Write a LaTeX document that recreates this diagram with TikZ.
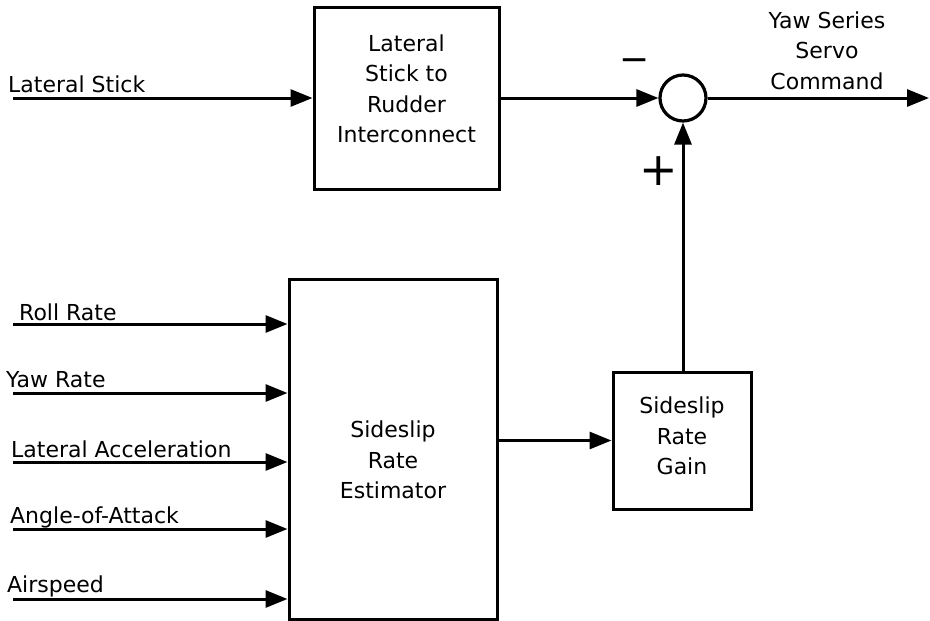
\documentclass[tikz,border=0pt]{standalone}
\usepackage{fontspec}
\setmainfont{DejaVu Sans}
\usetikzlibrary{arrows.meta}
\begin{document}
\begin{tikzpicture}[x=1pt,y=-1pt,
  wire/.style={line width=3pt},
  flow/.style={wire,-{Triangle[length=22pt,width=17pt]}},
  blk/.style={draw,line width=3pt,rectangle,inner sep=0pt},
  sumnode/.style={draw,line width=3.2pt,circle,minimum size=46pt,inner sep=0pt},
  lbl/.style={font=\fontsize{22}{30.5}\selectfont,inner sep=0pt},
  blktext/.style={lbl,align=center,anchor=center}]
\useasboundingbox (0,0) rectangle (930,621);

% blocks
\node[blk,minimum width=185pt,minimum height=182pt] (ls) at (406.5,98) {};
\node[blk,minimum width=208pt,minimum height=340pt] (est) at (393,449) {};
\node[blk,minimum width=138pt,minimum height=137pt] (gain) at (682,440.5) {};
\node[sumnode] (sum) at (683,98) {};

\node[blktext] (lstxt) at (406.5,89) {Lateral\\Stick to\\Rudder\\Interconnect};
\node[blktext] (esttxt) at (393,460) {Sideslip\\Rate\\Estimator};
\node[blktext] (gaintxt) at (682,436) {Sideslip\\Rate\\Gain};
\node[blktext] (outtxt) at (827,50.5) {Yaw Series\\Servo\\Command};

% signs at the summing junction
\node[lbl,font=\fontsize{36}{36}\selectfont] (minus) at (635,65) {−};
\node[lbl,font=\fontsize{46}{46}\selectfont] (plus) at (659,171) {+};

% input signals
\coordinate (inLS) at (13,98);
\coordinate (inRR) at (13,324);
\coordinate (inYR) at (13,393);
\coordinate (inLA) at (13,462);
\coordinate (inAA) at (13,529);
\coordinate (inAS) at (13,599);
\coordinate (out) at (929,98);

\node[lbl,anchor=base west] (tLS) at (8,92) {Lateral Stick};
\node[lbl,anchor=base west] (tRR) at (19,320) {Roll Rate};
\node[lbl,anchor=base west] (tYR) at (6,387) {Yaw Rate};
\node[lbl,anchor=base west] (tLA) at (11,457) {Lateral Acceleration};
\node[lbl,anchor=base west] (tAA) at (10,523) {Angle-of-Attack};
\node[lbl,anchor=base west] (tAS) at (7,592) {Airspeed};

% connectors
\draw[flow] (inLS) -- (ls.west);
\draw[flow] (inRR) -- (est.west |- inRR);
\draw[flow] (inYR) -- (est.west |- inYR);
\draw[flow] (inLA) -- (est.west |- inLA);
\draw[flow] (inAA) -- (est.west |- inAA);
\draw[flow] (inAS) -- (est.west |- inAS);
\draw[flow] (ls.east) -- (sum.west);
\draw[flow] (sum.east) -- (out);
\draw[flow] (est.east |- gain.west) -- (gain.west);
\draw[flow] (gain.north -| sum.south) -- (sum.south);
\end{tikzpicture}
\end{document}
